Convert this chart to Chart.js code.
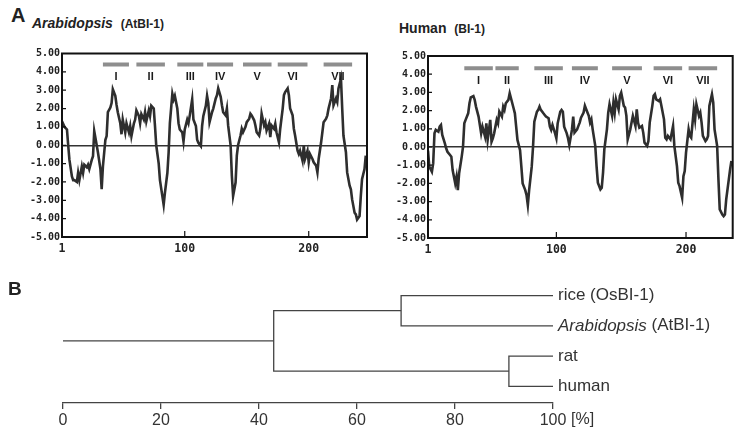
<!DOCTYPE html>
<html>
<head>
<meta charset="utf-8">
<script src="https://cdn.jsdelivr.net/npm/chart.js@4.4.1/dist/chart.umd.min.js"></script>
<style>
  body { margin: 0; background: #fff; width: 735px; height: 431px; position: relative; overflow: hidden;
         font-family: "Liberation Sans", Arial, sans-serif; color: #222; }
  canvas { position: absolute; }
  .lbl { position: absolute; white-space: nowrap; line-height: 1; font-weight: bold; }
</style>
</head>
<body>
<canvas id="at" width="372" height="225" style="left:0;top:40px"></canvas>
<canvas id="hu" width="363" height="225" style="left:372px;top:40px"></canvas>
<canvas id="tree" width="735" height="161" style="left:0;top:270px"></canvas>

<div class="lbl" style="left:11px;top:5px;font-size:20px">A</div>
<div class="lbl" style="left:32px;top:16px;font-size:14px"><i>Arabidopsis</i>&nbsp; <span style="font-size:12px">(AtBI-1)</span></div>
<div class="lbl" style="left:399px;top:21px;font-size:14px">Human&nbsp; <span style="font-size:12px">(BI-1)</span></div>
<div class="lbl" style="left:8px;top:279px;font-size:19px">B</div>

<script>
// hydropathy profiles, [residue, value]
const atbi1 = [
  [1,1.3],[3,1.0],[5,0.86],[6,0.0],[7,-0.8],[9,-1.7],[10,-1.9],[11,-1.9],[13,-2.0],[14,-1.5],
  [15,-1.9],[17,-1.15],[18,-1.5],[19,-1.06],[21,-1.2],[22,-1.06],[23,-1.3],[25,-0.8],[26,-0.6],[27,0.77],
  [29,0.0],[30,-0.4],[32,-1.3],[33,-2.4],[34,-1.15],[36,0.3],[37,0.5],[38,1.8],[40,2.05],[41,2.3],
  [42,3.05],[44,2.7],[45,2.2],[46,1.8],[48,1.2],[49,0.6],[50,1.4],[52,0.7],[53,1.2],[55,0.7],
  [56,1.05],[57,0.5],[59,1.2],[60,1.4],[61,1.9],[63,1.6],[64,1.2],[65,1.7],[67,1.4],[68,1.8],
  [69,1.3],[71,1.9],[72,1.6],[73,2.15],[75,2.0],[76,1.05],[77,0.0],[79,-1.0],[80,-1.9],[82,-2.8],
  [83,-3.25],[84,-2.6],[86,-1.5],[87,-0.4],[88,1.2],[90,2.8],[91,2.5],[92,2.7],[94,2.0],[95,1.2],
  [96,0.86],[98,0.7],[99,0.2],[100,0.86],[102,1.4],[103,1.2],[104,1.6],[106,2.5],[107,1.4],[109,1.05],
  [110,0.3],[111,0.13],[113,-0.05],[114,1.05],[115,1.6],[117,2.15],[118,2.7],[119,2.3],[120,1.26],[122,1.8],
  [123,2.0],[125,2.55],[126,2.73],[127,3.1],[129,2.64],[130,2.18],[131,1.8],[133,1.63],[134,2.0],[135,1.08],
  [137,0.0],[138,-1.67],[139,-2.77],[141,-2.03],[142,-0.57],[143,0.0],[145,0.53],[146,0.9],[147,0.71],[149,1.0],
  [150,1.26],[152,1.45],[153,1.72],[154,1.63],[156,1.36],[157,1.08],[158,0.71],[160,0.53],[161,0.9],[162,1.72],
  [164,1.08],[165,1.26],[166,0.8],[168,1.17],[169,0.44],[170,1.08],[172,0.9],[173,1.17],[174,0.71],[176,0.16],
  [177,0.9],[179,2.0],[180,2.73],[181,2.9],[183,3.1],[184,2.73],[185,2.0],[187,1.63],[188,0.9],[189,0.53],
  [191,-0.3],[192,-0.48],[193,-0.3],[195,-0.84],[196,0.0],[197,-0.75],[199,-0.3],[200,-0.93],[201,-0.48],[203,-0.75],
  [204,-0.93],[206,-1.12],[207,-1.48],[208,-0.75],[210,0.16],[211,0.71],[212,1.26],[214,1.45],[215,1.63],[216,2.0],
  [218,2.55],[219,3.28],[220,2.18],[222,2.55],[223,2.36],[224,3.1],[226,3.64],[227,2.0],[228,0.53],[230,-0.38],
  [231,-1.48],[233,-2.2],[234,-2.4],[235,-2.95],[237,-3.68],[238,-3.77],[239,-4.05],[241,-3.86],[242,-2.77],[243,-1.85],
  [245,-1.3],[246,-0.57]
];
const bi1 = [
  [1,-0.2],[2,-1.08],[4,-1.36],[5,-0.9],[6,0.75],[7,0.94],[9,0.84],[10,1.12],[11,1.21],[12,0.66],
  [14,0.2],[15,-0.07],[16,-0.26],[18,-0.44],[19,-0.53],[20,-1.27],[22,-2.0],[23,-1.63],[24,-2.37],[25,-1.45],
  [27,-0.53],[28,0.0],[29,1.3],[30,1.49],[32,1.85],[33,2.4],[34,2.73],[36,2.8],[37,2.59],[38,2.22],
  [40,1.67],[41,1.21],[42,0.75],[43,1.12],[45,0.57],[46,1.3],[47,0.39],[49,1.49],[50,0.29],[51,0.48],
  [52,0.75],[54,1.49],[55,1.3],[56,1.94],[58,1.67],[59,2.22],[60,2.04],[61,2.4],[63,2.59],[64,2.95],
  [65,2.68],[67,2.13],[68,1.85],[69,1.12],[70,0.39],[72,-0.17],[73,-1.08],[74,-2.0],[76,-2.37],[77,-2.64],
  [78,-3.19],[79,-2.37],[81,-1.08],[82,0.0],[83,1.39],[85,1.94],[86,2.04],[87,2.22],[88,2.04],[90,1.85],
  [91,1.76],[92,1.67],[94,1.58],[95,1.12],[96,0.94],[97,1.21],[99,0.75],[100,0.48],[101,1.3],[103,1.94],
  [104,2.04],[105,1.94],[106,1.12],[108,0.75],[109,0.48],[110,0.11],[112,0.94],[113,1.67],[114,0.79],[116,0.97],
  [117,1.16],[118,1.34],[119,1.61],[121,1.89],[122,2.26],[123,2.07],[125,1.71],[126,1.34],[127,1.52],[128,0.97],
  [130,0.06],[131,-1.05],[132,-1.96],[134,-2.33],[135,-2.24],[136,-1.41],[137,-0.13],[139,0.97],[140,1.89],[141,2.35],
  [143,1.71],[144,2.44],[145,1.89],[146,2.62],[148,2.07],[149,2.81],[150,2.99],[152,2.26],[153,2.17],[154,1.71],
  [155,0.42],[157,0.97],[158,1.34],[159,1.71],[161,1.16],[162,2.07],[163,1.34],[164,1.06],[166,1.16],[167,0.79],
  [168,0.24],[170,0.06],[171,0.33],[172,1.34],[174,2.26],[175,2.81],[176,2.9],[177,2.62],[179,2.53],[180,2.62],
  [181,2.26],[183,1.52],[184,0.51],[185,0.42],[186,0.61],[188,0.42],[189,0.79],[190,1.16],[191,0.06],[193,-1.05],
  [194,-1.96],[195,-2.15],[197,-2.79],[198,-1.6],[199,-1.32],[200,-0.31],[202,0.97],[203,0.61],[204,0.51],[206,2.07],
  [207,1.52],[208,2.35],[210,1.71],[211,1.89],[212,1.34],[213,0.61],[215,0.33],[216,0.42],[217,0.61],[218,2.26],
  [220,2.9],[221,2.44],[222,0.97],[224,0.06],[225,-1.78],[226,-3.43],[228,-3.71],[229,-3.8],[230,-3.71],[231,-2.88],
  [233,-1.78],[234,-1.23],[235,-0.77]
];

// transmembrane segments
const tmNames = ['I', 'II', 'III', 'IV', 'V', 'VI', 'VII'];
const atTmStart = [34, 61, 94, 118, 147, 175, 212];
const atTmEnd   = [55, 84, 115, 139, 170, 199, 235];
const huTmStart = [29, 53, 83, 112, 143, 175, 202];
const huTmEnd   = [51, 71, 105, 132, 166, 197, 224];

const yTicks = [-5, -4, -3, -2, -1, 0, 1, 2, 3, 4, 5];
const xTicks = [1, 100, 200];

// tree (B)
const treeLeaves = ['rice (OsBI-1)', 'Arabidopsis (AtBI-1)', 'rat', 'human'];
const treeItalic = ['', 'Arabidopsis', '', ''];
const plantNode = 69;
const animalNode = 91;
const rootNode = 43;
const treeTicks = [0, 20, 40, 60, 80, 100];

const monoY = { family: 'DejaVu Sans Mono', size: 10, weight: 'bold' };
const monoX = { family: 'DejaVu Sans Mono', size: 11.5, weight: 'bold' };

// frame, inner ticks and TM labels
function hydroDecor(tmStart, tmEnd, labelY) {
  return {
    id: 'hydroDecor',
    afterDatasetsDraw(chart) {
      const { ctx, chartArea: a, scales: { x, y } } = chart;
      ctx.save();
      ctx.strokeStyle = '#111';
      ctx.lineWidth = 2;
      ctx.strokeRect(a.left, a.top, a.right - a.left, a.bottom - a.top);
      ctx.lineWidth = 1.2;
      ctx.beginPath();
      yTicks.forEach(v => {
        const py = y.getPixelForValue(v);
        ctx.moveTo(a.left, py); ctx.lineTo(a.left + 4, py);
      });
      xTicks.slice(1).forEach(v => {
        const px = x.getPixelForValue(v);
        ctx.moveTo(px, a.bottom); ctx.lineTo(px, a.bottom - 6);
      });
      ctx.stroke();
      ctx.fillStyle = '#1a1a1a';
      ctx.font = 'bold 11px "Liberation Sans", Arial, sans-serif';
      ctx.textAlign = 'center';
      ctx.textBaseline = 'middle';
      tmNames.forEach((n, i) => {
        ctx.fillText(n, x.getPixelForValue((tmStart[i] + tmEnd[i]) / 2), y.getPixelForValue(labelY));
      });
      ctx.restore();
    }
  };
}

function hydroChart(id, points, tmStart, tmEnd, xMax, barY, yW, xH, pad) {
  const tmData = [];
  tmStart.forEach((s, i) => {
    tmData.push({ x: s, y: barY }, { x: tmEnd[i], y: barY }, { x: tmEnd[i], y: null });
  });
  return new Chart(document.getElementById(id), {
    type: 'line',
    data: {
      datasets: [
        { data: points.map(p => ({ x: p[0], y: p[1] })), borderColor: '#2e2e2e', borderWidth: 2.6,
          pointRadius: 0, tension: 0 },
        { data: tmData, borderColor: '#8e8e8e', borderWidth: 4, pointRadius: 0, spanGaps: false,
          borderCapStyle: 'butt' }
      ]
    },
    options: {
      responsive: false, animation: false, devicePixelRatio: 1,
      layout: { padding: pad },
      plugins: { legend: { display: false }, tooltip: { enabled: false } },
      scales: {
        x: {
          type: 'linear', min: 1, max: xMax,
          afterBuildTicks: s => { s.ticks = xTicks.map(v => ({ value: v })); },
          afterFit: s => { s.height = xH; },
          grid: { display: false, drawTicks: false }, border: { display: false },
          ticks: { font: monoX, color: '#222', padding: 5, maxRotation: 0, autoSkip: false }
        },
        y: {
          min: -5, max: 5,
          afterBuildTicks: s => { s.ticks = yTicks.map(v => ({ value: v })); },
          afterFit: s => { s.width = yW; },
          grid: { color: c => c.tick && c.tick.value === 0 ? '#333' : 'rgba(0,0,0,0)', lineWidth: 1.4, drawTicks: false },
          border: { display: false },
          ticks: { font: monoY, color: '#222', padding: 2, callback: v => v.toFixed(2) }
        }
      }
    },
    plugins: [hydroDecor(tmStart, tmEnd, barY - 0.68)]
  });
}

hydroChart('at', atbi1, atTmStart, atTmEnd, 247, 4.4, 62, 28, { top: 13.5, right: 5, left: 0, bottom: 0 });
hydroChart('hu', bi1, huTmStart, huTmEnd, 236, 4.33, 56, 27, { top: 16, right: 2.3, left: 0, bottom: 0 });

// dendrogram
const plantY = 0.5, animalY = 2.5, rootY = (plantY + animalY) / 2;
const treePaths = [
  [[0, rootY], [rootNode, rootY]],
  [[plantNode, plantY], [rootNode, plantY], [rootNode, animalY], [animalNode, animalY]],
  [[100, 0], [plantNode, 0], [plantNode, 1], [100, 1]],
  [[100, 2], [animalNode, 2], [animalNode, 3], [100, 3]]
];

const leafLabels = {
  id: 'leafLabels',
  afterDatasetsDraw(chart) {
    const { ctx, scales: { x, y } } = chart;
    ctx.save();
    ctx.fillStyle = '#333';
    ctx.textBaseline = 'middle';
    const lx = x.getPixelForValue(100) + 5;
    treeLeaves.forEach((name, i) => {
      const py = y.getPixelForValue(i);
      let px = lx;
      let rest = name;
      if (treeItalic[i]) {
        ctx.font = 'italic 17px "Liberation Sans", Arial, sans-serif';
        ctx.fillText(treeItalic[i], px, py);
        px += ctx.measureText(treeItalic[i]).width;
        rest = name.slice(treeItalic[i].length);
      }
      ctx.font = '17px "Liberation Sans", Arial, sans-serif';
      ctx.fillText(rest, px, py);
    });
    // unit after the last axis label
    ctx.font = '16px "Liberation Sans", Arial, sans-serif';
    ctx.fillText('[%]', x.getPixelForValue(100) + 18, chart.chartArea.bottom + 17);
    ctx.restore();
  }
};

new Chart(document.getElementById('tree'), {
  type: 'scatter',
  data: {
    datasets: treePaths.map(p => ({
      data: p.map(q => ({ x: q[0], y: q[1] })),
      showLine: true, borderColor: '#444', borderWidth: 1.3, pointRadius: 0, clip: false
    }))
  },
  options: {
    responsive: false, animation: false, devicePixelRatio: 1,
    layout: { padding: { left: 63, right: 182, top: 10.4, bottom: 0 } },
    plugins: { legend: { display: false }, tooltip: { enabled: false } },
    scales: {
      x: {
        min: 0, max: 100,
        afterBuildTicks: s => { s.ticks = treeTicks.map(v => ({ value: v })); },
        afterFit: s => { s.height = 28; },
        border: { display: true, color: '#444', width: 1.3 },
        grid: { drawOnChartArea: false, drawTicks: true, tickLength: 6, color: '#444', lineWidth: 1.3 },
        ticks: { font: { family: 'Liberation Sans', size: 16 }, color: '#333', padding: 2, maxRotation: 0, autoSkip: false }
      },
      y: { display: false, reverse: true, min: -0.5, max: 3.55 }
    }
  },
  plugins: [leafLabels]
});
</script>
</body>
</html>
